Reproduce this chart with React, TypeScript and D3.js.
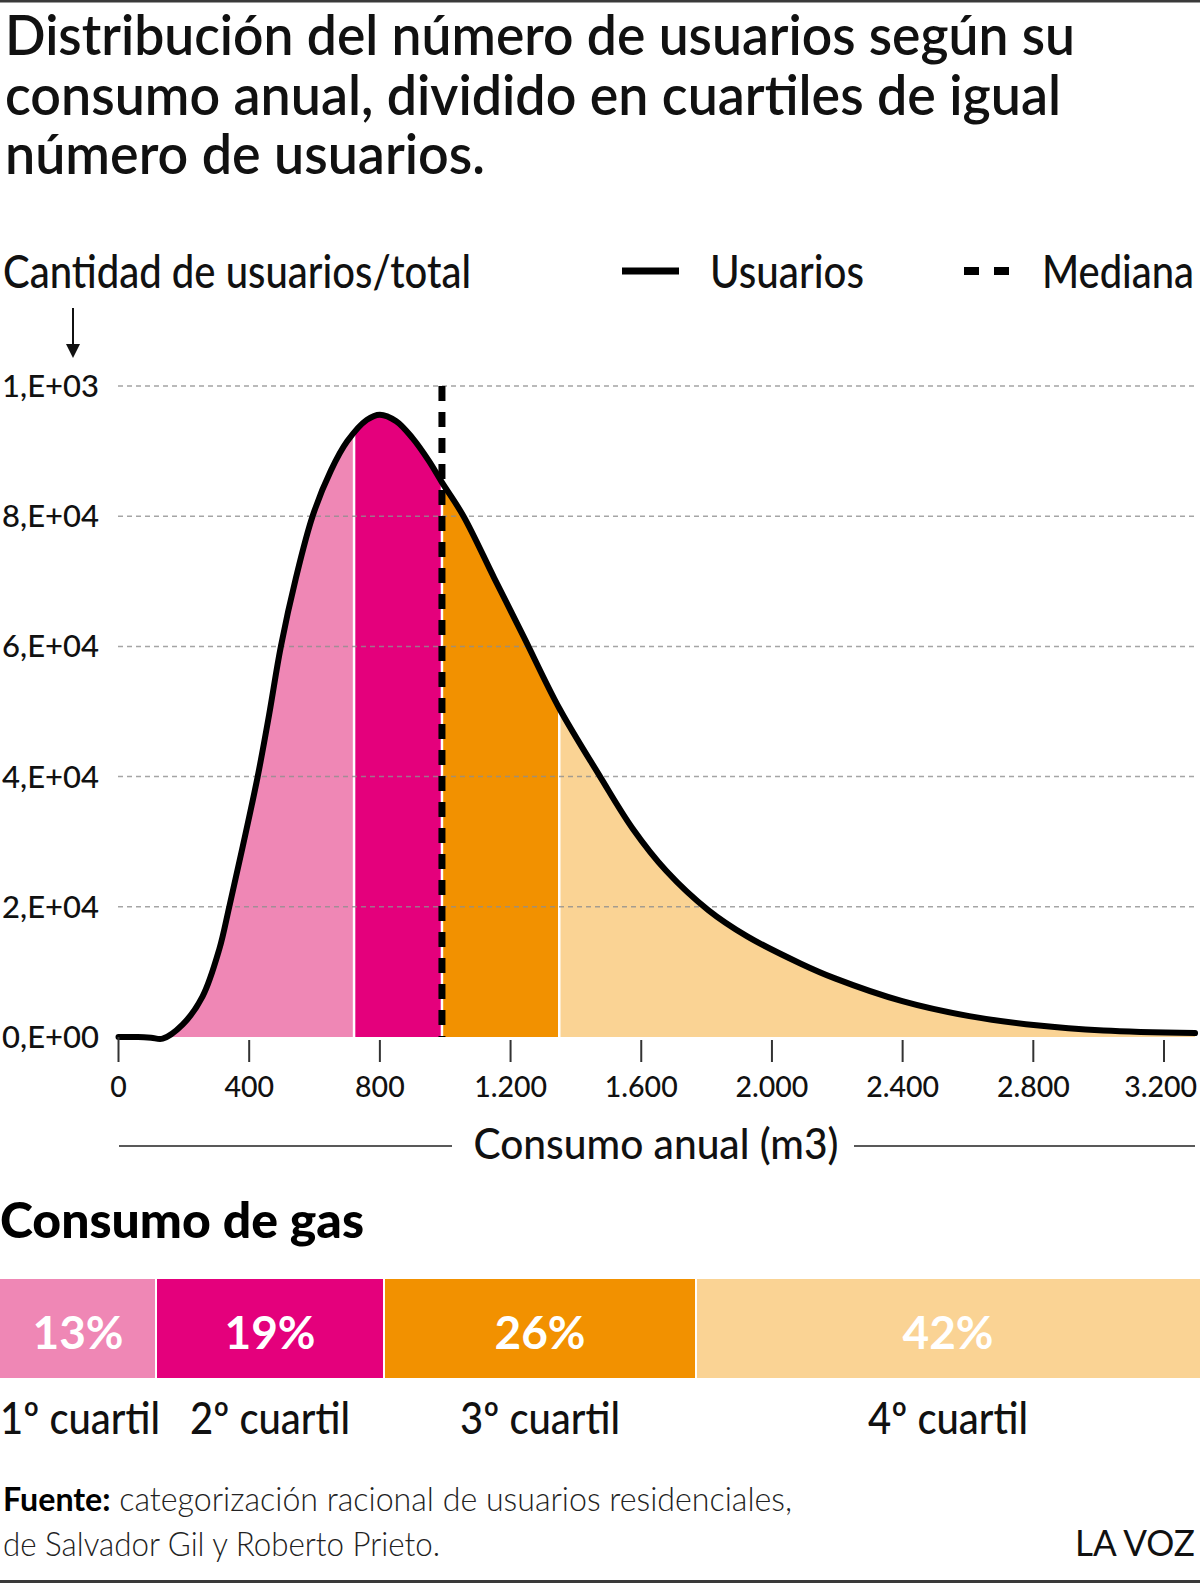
import React from 'react';
import * as d3 from 'd3';

// Consumo anual (m3) y cantidad de usuarios de la curva de distribución
const consumo = [0, 60, 100, 135, 196, 257, 308, 339, 380, 426, 461, 497, 543, 594, 650, 700, 760, 800, 850, 900, 950, 990, 1056, 1150, 1240, 1349, 1474, 1574, 1677, 1805, 1923, 2087, 2193, 2399, 2604, 2809, 3015, 3295];
const usuarios = [0, 0, -100, -250, 1900, 6200, 13400, 20000, 29200, 40000, 49500, 60000, 70500, 80000, 87000, 91500, 94800, 95600, 94600, 92000, 88500, 85200, 80000, 70500, 61500, 50500, 40000, 32000, 25500, 19500, 15500, 11300, 9000, 5500, 3200, 1800, 1000, 600];

// límites de cada cuartil de usuarios (m3)
const cuartilLimites = [0, 721, 990, 1349, 3295];
const medianaM3 = 990;

// reparto del consumo total de gas por cuartil (%)
const consumoGasPct = [13, 19, 26, 42];
const cuartilNombres = ['1º cuartil', '2º cuartil', '3º cuartil', '4º cuartil'];

const yTicks = [0, 20000, 40000, 60000, 80000, 100000];
const yTickLabels = ['0,E+00', '2,E+04', '4,E+04', '6,E+04', '8,E+04', '1,E+03'];
const xTicks = [0, 400, 800, 1200, 1600, 2000, 2400, 2800, 3200];

const colores = ['#ef87b5', '#e4007c', '#f29100', '#fad394'];
const FONT = "Lato, 'Open Sans', sans-serif";

const W = 1200;
const H = 1595;

const es = d3.formatLocale({ decimal: ',', thousands: '.', grouping: [3], currency: ['', '€'] });
const fmt = es.format(',d');

export default function App() {
  const x = d3.scaleLinear().domain([0, 3200]).range([118.5, 1164]);
  const y = d3.scaleLinear().domain([0, 100000]).range([1037, 386]);

  const puntos: [number, number][] = consumo.map((c, i) => [c, usuarios[i]]);
  const curva = d3.curveCatmullRom.alpha(0.5);
  const area = d3.area<[number, number]>()
    .x(d => x(d[0]))
    .y0(y(0))
    .y1(d => y(d[1]))
    .curve(curva);
  const linea = d3.line<[number, number]>()
    .x(d => x(d[0]))
    .y(d => y(d[1]))
    .curve(curva);
  const areaPath = area(puntos) || '';

  // barra de consumo de gas
  const xBar = d3.scaleLinear().domain([0, 100]).range([0, W]);
  const acum = [0, ...Array.from(d3.cumsum(consumoGasPct))];

  return (
    <div style={{ position: 'absolute', left: 0, top: 0 }}>
      <svg width={W} height={H} style={{ display: 'block', background: '#fff' }} fontFamily={FONT}>
        <defs>
          {cuartilLimites.slice(0, -1).map((lim, i) => (
            <clipPath id={`cuartil-${i}`} key={i}>
              <rect x={x(lim)} y={0} width={(i === 3 ? W : x(cuartilLimites[i + 1])) - x(lim)} height={H} />
            </clipPath>
          ))}
          <clipPath id="bajo-curva">
            <path d={areaPath} />
          </clipPath>
        </defs>

        {/* bordes */}
        <rect x={0} y={0} width={W} height={2.5} fill="#3a3a3a" />
        <rect x={0} y={1580} width={W} height={3} fill="#3a3a3a" />

        {/* título */}
        <g fontWeight={600} fontSize={55} fill="#111">
          <text x={5} y={55} textLength={1070} lengthAdjust="spacingAndGlyphs">Distribución del número de usuarios según su</text>
          <text x={5} y={114.5} textLength={1056} lengthAdjust="spacingAndGlyphs">consumo anual, dividido en cuartiles de igual</text>
          <text x={5} y={174} textLength={480} lengthAdjust="spacingAndGlyphs">número de usuarios.</text>
        </g>

        {/* título del eje y leyenda */}
        <g fontSize={46} fontWeight={500} fill="#111">
          <text x={3} y={288} textLength={468} lengthAdjust="spacingAndGlyphs">Cantidad de usuarios/total</text>
          <text x={710} y={288} textLength={154} lengthAdjust="spacingAndGlyphs">Usuarios</text>
          <text x={1194} y={288} textAnchor="end" textLength={152} lengthAdjust="spacingAndGlyphs">Mediana</text>
        </g>
        <line x1={622} x2={679} y1={271} y2={271} stroke="#000" strokeWidth={7} />
        <line x1={964} x2={1012} y1={271} y2={271} stroke="#000" strokeWidth={8} strokeDasharray="15 15" />
        <line x1={73} x2={73} y1={308} y2={346} stroke="#111" strokeWidth={2} />
        <path d="M66,344 L80,344 L73,358 Z" fill="#111" />

        {/* relleno por cuartiles */}
        {colores.map((c, i) => (
          <path key={i} d={areaPath} fill={c} clipPath={`url(#cuartil-${i})`} />
        ))}
        <g clipPath="url(#bajo-curva)">
          {cuartilLimites.slice(1, -1).map((lim, i) => (
            <line key={i} x1={x(lim)} x2={x(lim)} y1={y(0)} y2={y(100000)} stroke="#fff" strokeWidth={2.5} />
          ))}
        </g>

        {/* líneas de referencia */}
        {yTicks.slice(1).map(t => (
          <line key={t} x1={118} x2={1195} y1={y(t)} y2={y(t)} stroke="#8f8f8f" strokeWidth={1.5} strokeDasharray="5 4" opacity={0.8} />
        ))}
        {yTicks.map((t, i) => (
          <text key={t} x={99} y={y(t) + 11} textAnchor="end" fontSize={31} fontWeight={500} fill="#111">{yTickLabels[i]}</text>
        ))}

        {/* curva de usuarios */}
        <path d={linea(puntos) || ''} fill="none" stroke="#000" strokeWidth={6} strokeLinejoin="round" strokeLinecap="round" />

        {/* mediana */}
        <line x1={x(medianaM3)} x2={x(medianaM3)} y1={y(100000)} y2={y(0)} stroke="#000" strokeWidth={7} strokeDasharray="15 11" />

        {/* eje x */}
        {xTicks.map((t, i) => {
          const ultimo = i === xTicks.length - 1;
          return (
            <g key={t}>
              <line x1={x(t)} x2={x(t)} y1={t === 0 ? y(0) : y(0) + 3} y2={1062} stroke="#333" strokeWidth={2} />
              <text x={ultimo ? 1197 : x(t)} y={1097} textAnchor={ultimo ? 'end' : 'middle'} fontSize={28.5} fontWeight={500} fill="#111">{fmt(t)}</text>
            </g>
          );
        })}
        <line x1={119} x2={452} y1={1146} y2={1146} stroke="#222" strokeWidth={1.5} />
        <line x1={854} x2={1195} y1={1146} y2={1146} stroke="#222" strokeWidth={1.5} />
        <text x={656} y={1159} textAnchor="middle" fontSize={43} fontWeight={500} fill="#111" textLength={365} lengthAdjust="spacingAndGlyphs">Consumo anual (m3)</text>

        {/* consumo de gas por cuartil */}
        <text x={0} y={1238} fontSize={50} fontWeight={900} fill="#000" textLength={364} lengthAdjust="spacingAndGlyphs">Consumo de gas</text>
        {consumoGasPct.map((p, i) => {
          const x0 = xBar(acum[i]);
          const x1 = xBar(acum[i + 1]);
          const cx = (x0 + x1) / 2;
          return (
            <g key={i}>
              <rect x={x0 + (i > 0 ? 1 : 0)} y={1279} width={x1 - x0 - (i > 0 ? 1 : 0) - (i < 3 ? 1 : 0)} height={99} fill={colores[i]} />
              <text x={cx} y={1349} textAnchor="middle" fontSize={46} fontWeight={700} fill="#fff">{p}%</text>
              <text x={Math.max(cx, 80)} y={1434} textAnchor="middle" fontSize={44} fontWeight={500} fill="#111" textLength={160} lengthAdjust="spacingAndGlyphs">{cuartilNombres[i]}</text>
            </g>
          );
        })}

        {/* fuente */}
        <text x={3} y={1511} fontSize={33} fill="#222" textLength={789} lengthAdjust="spacingAndGlyphs">
          <tspan fontWeight={700} fill="#000">Fuente:</tspan>
          <tspan fontWeight={300}> categorización racional de usuarios residenciales,</tspan>
        </text>
        <text x={3} y={1556} fontSize={33} fontWeight={300} fill="#222" textLength={437} lengthAdjust="spacingAndGlyphs">de Salvador Gil y Roberto Prieto.</text>
        <text x={1195} y={1556} textAnchor="end" fontSize={36} fontWeight={400} fill="#111" textLength={120} lengthAdjust="spacingAndGlyphs">LA VOZ</text>
      </svg>
    </div>
  );
}
